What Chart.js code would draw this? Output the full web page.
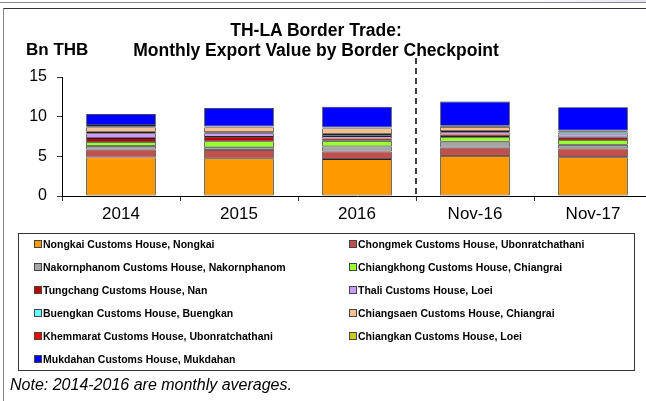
<!DOCTYPE html>
<html lang="en">
<head>
<meta charset="UTF-8">
<title>TH-LA Border Trade</title>
<script src="https://cdn.jsdelivr.net/npm/chart.js"></script>
<style>
  html, body { margin: 0; padding: 0; width: 646px; height: 401px; overflow: hidden; background: #fff; font-family: "Liberation Sans", Arial, sans-serif; }
  .topstrip { position: absolute; left: 0; top: 0; width: 646px; height: 2px; border-bottom: 1px solid #8a8a8a; background: linear-gradient(to right, #fff 80%, #e4e4f4); }
  .frame { position: absolute; left: 3px; top: 8px; width: 660px; height: 420px; border-top: 1px solid #333; border-left: 1px solid #888; }
  #chart { position: absolute; left: 0; top: 0; }
  .title { position: absolute; left: 0; width: 632px; text-align: center; font-weight: bold; font-size: 17.5px; color: #000; }
  .unit { position: absolute; left: 26px; top: 40px; font-weight: bold; font-size: 17px; }
  .legend { position: absolute; left: 18px; top: 233px; width: 617px; height: 138px; border: 1px solid #333; box-sizing: border-box; }
  .item { position: absolute; font-weight: bold; font-size: 10.5px; white-space: nowrap; line-height: 12px; }
  .item i { display: inline-block; width: 6px; height: 6px; border: 1px solid #444; margin-right: 1px; vertical-align: 0px; }
  .note { position: absolute; left: 10px; top: 376px; font-style: italic; font-size: 16px; }
</style>
</head>
<body>
<div class="topstrip"></div>
<div class="frame"></div>
<canvas id="chart" width="652" height="401"></canvas>
<div class="title" style="top:20px">TH-LA Border Trade:</div>
<div class="title" style="top:40px">Monthly Export Value by Border Checkpoint</div>
<div class="unit">Bn THB</div>
<div class="legend" id="legend"></div>
<div class="note">Note: 2014-2016 are monthly averages.</div>
<script>
const periods = ['2014', '2015', '2016', 'Nov-16', 'Nov-17'];

const checkpoints = [
  'Nongkai Customs House, Nongkai',
  'Chongmek Customs House, Ubonratchathani',
  'Nakornphanom Customs House, Nakornphanom',
  'Chiangkhong Customs House, Chiangrai',
  'Tungchang Customs House, Nan',
  'Thali Customs House, Loei',
  'Buengkan Customs House, Buengkan',
  'Chiangsaen Customs House, Chiangrai',
  'Khemmarat Customs House, Ubonratchathani',
  'Chiangkan Customs House, Loei',
  'Mukdahan Customs House, Mukdahan'
];

const colors = ['#FF9900', '#C0504D', '#A6A6A6', '#99FF33', '#C00000', '#CC99FF',
                '#66FFFF', '#FFC090', '#FF0000', '#CCCC00', '#0000FF'];

// Bn THB per period, same order as periods
const nongkai      = [4.85, 4.75, 4.65, 5.05, 4.90];
const chongmek     = [1.00, 1.05, 0.95, 1.05, 1.10];
const nakornphanom = [0.45, 0.35, 0.65, 0.75, 0.45];
const chiangkhong  = [0.50, 0.75, 0.70, 0.60, 0.60];
const tungchang    = [0.50, 0.55, 0.30, 0.30, 0.35];
const thali        = [0.60, 0.45, 0.30, 0.30, 0.35];
const buengkan     = [0.20, 0.15, 0.25, 0.15, 0.25];
const chiangsaen   = [0.55, 0.60, 0.70, 0.50, 0.10];
const khemmarat    = [0.15, 0.10, 0.10, 0.10, 0.10];
const chiangkan    = [0.15, 0.05, 0.05, 0.05, 0.05];
const mukdahan     = [1.40, 2.30, 2.60, 3.05, 2.95];

const yTicks = [0, 5, 10, 15];

const series = [nongkai, chongmek, nakornphanom, chiangkhong, tungchang, thali,
                buengkan, chiangsaen, khemmarat, chiangkan, mukdahan];

// legend, two columns
const legend = document.getElementById('legend');
checkpoints.forEach((name, i) => {
  const d = document.createElement('div');
  d.className = 'item';
  d.style.left = (i % 2 === 0 ? 15 : 330) + 'px';
  d.style.top = (4 + Math.floor(i / 2) * 23) + 'px';
  d.innerHTML = '<i style="background:' + colors[i] + '"></i>' + name;
  legend.appendChild(d);
});

const dashLine = {
  id: 'dashLine',
  afterDatasetsDraw(chart) {
    const x = chart.scales.x.getPixelForValue(2.5);
    const ctx = chart.ctx;
    ctx.save();
    ctx.strokeStyle = '#000';
    ctx.lineWidth = 1.5;
    ctx.setLineDash([6, 4]);
    ctx.beginPath();
    ctx.moveTo(x, 58);
    ctx.lineTo(x, chart.chartArea.bottom);
    ctx.stroke();
    ctx.restore();
  }
};

new Chart(document.getElementById('chart'), {
  type: 'bar',
  data: {
    labels: periods,
    datasets: series.map((vals, i) => ({
      label: checkpoints[i],
      data: vals,
      backgroundColor: colors[i],
      borderColor: '#222',
      borderWidth: 0.8,
      borderSkipped: false,
      barPercentage: 0.59,
      categoryPercentage: 1
    }))
  },
  options: {
    responsive: false,
    animation: false,
    layout: { padding: { left: 0, right: 0, top: 77, bottom: 180 } },
    plugins: { legend: { display: false }, title: { display: false }, tooltip: { enabled: false } },
    scales: {
      x: {
        stacked: true,
        afterFit: s => { s.height = 25; },
        grid: { drawOnChartArea: false, offset: true, tickLength: 5, color: '#333' },
        border: { color: '#000', width: 1 },
        ticks: { color: '#000', font: { family: 'Liberation Sans', size: 17 }, padding: 3 }
      },
      y: {
        stacked: true,
        min: 0,
        max: 15,
        afterFit: s => { s.width = 62; },
        afterBuildTicks: s => { s.ticks = yTicks.map(v => ({ value: v })); },
        grid: { drawOnChartArea: false, tickLength: 5, color: '#333' },
        border: { color: '#000', width: 1 },
        ticks: { color: '#000', font: { family: 'Liberation Sans', size: 16 }, padding: 10 }
      }
    }
  },
  plugins: [dashLine]
});
</script>
</body>
</html>
